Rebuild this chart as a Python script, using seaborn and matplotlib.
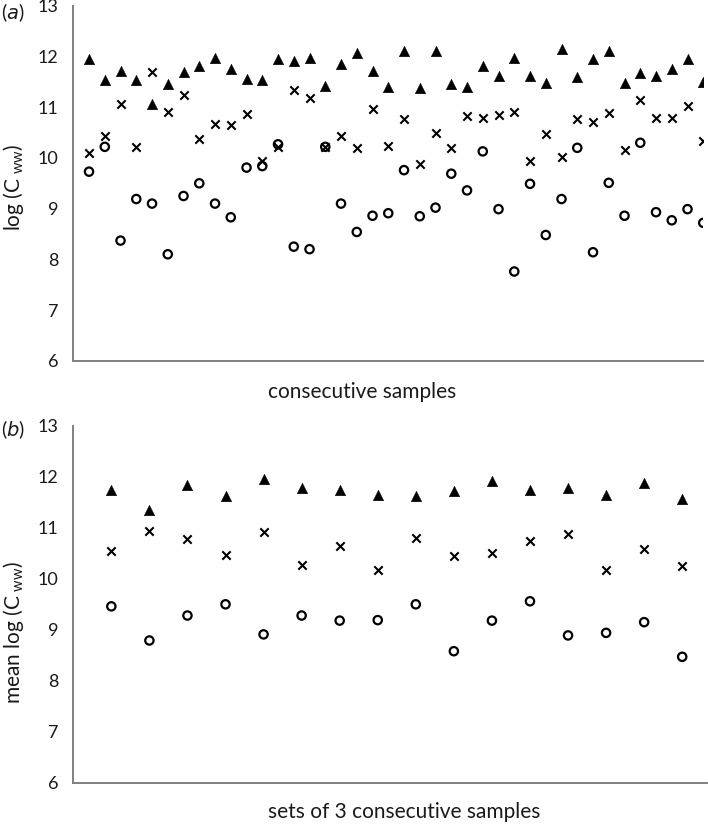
import numpy as np
import pandas as pd
import matplotlib
matplotlib.use("Agg")
import matplotlib.pyplot as plt
import seaborn as sns

# ==========================================
# Data
# ==========================================
# panel (a): 40 consecutive samples
tri_a = [11.95, 11.54, 11.72, 11.54, 11.06, 11.46, 11.70, 11.82, 11.98, 11.76,
         11.56, 11.54, 11.95, 11.92, 11.98, 11.42, 11.85, 12.08, 11.71, 11.40,
         12.12, 11.38, 12.12, 11.46, 11.40, 11.81, 11.62, 11.98, 11.62, 11.47,
         12.15, 11.60, 11.95, 12.11, 11.48, 11.67, 11.62, 11.75, 11.95, 11.50]
cross_a = [10.09, 10.43, 11.06, 10.22, 11.69, 10.90, 11.25, 10.38, 10.68, 10.65,
           10.86, 9.94, 10.22, 11.35, 11.19, 10.22, 10.44, 10.19, 10.97, 10.24,
           10.77, 9.89, 10.50, 10.19, 10.82, 10.78, 10.84, 10.90, 9.95, 10.47,
           10.02, 10.76, 10.71, 10.89, 10.15, 11.14, 10.79, 10.79, 11.03, 10.33]
circ_a = [9.73, 10.22, 8.37, 9.19, 9.10, 8.10, 9.25, 9.50, 9.10, 8.83,
          9.81, 9.84, 10.27, 8.25, 8.20, 10.22, 9.10, 8.54, 8.86, 8.91,
          9.76, 8.85, 9.02, 9.69, 9.36, 10.13, 8.99, 7.76, 9.49, 8.48,
          9.19, 10.20, 8.14, 9.51, 8.86, 10.30, 8.93, 8.77, 8.99, 8.72]

# panel (b): 16 sets of 3 consecutive samples
tri_b = [11.74, 11.36, 11.85, 11.62, 11.95, 11.79, 11.74, 11.64,
         11.62, 11.72, 11.92, 11.75, 11.79, 11.64, 11.89, 11.56]
cross_b = [10.54, 10.94, 10.78, 10.47, 10.92, 10.28, 10.65, 10.18,
           10.81, 10.44, 10.51, 10.74, 10.87, 10.17, 10.59, 10.26]
circ_b = [9.46, 8.79, 9.28, 9.50, 8.91, 9.28, 9.18, 9.19,
          9.50, 8.58, 9.18, 9.56, 8.89, 8.94, 9.15, 8.47]

yticks = [6, 7, 8, 9, 10, 11, 12, 13]

sns.set_style("white")
plt.rcParams["font.family"] = ["Lato", "DejaVu Sans"]

fig = plt.figure(figsize=(7.08, 8.25), dpi=100)
ax_a = fig.add_axes([0.1035, 0.5628, 0.8898, 0.430])
ax_b = fig.add_axes([0.1035, 0.0513, 0.8950, 0.4324])

TXT = "#1a1a1a"


def draw_panel(ax, tri, cross, circ, xmax):
    x = np.arange(1, len(tri) + 1)
    sns.scatterplot(x=x, y=tri, marker="^", s=58, color="black",
                    edgecolor="black", linewidth=0.3, ax=ax)
    sns.scatterplot(x=x, y=cross, marker="x", s=36, color="black",
                    linewidth=1.5, ax=ax)
    ax.scatter(x, circ, marker="o", s=36, facecolors="none",
               edgecolors="black", linewidths=1.6)
    ax.set_xlim(0, xmax)
    ax.set_ylim(6, 13)
    ax.set_yticks(yticks)
    ax.set_yticklabels([str(t) for t in yticks], fontsize=13, color=TXT)
    ax.set_xticks([])
    ax.tick_params(axis="y", length=0, pad=11)
    for side in ["top", "right"]:
        ax.spines[side].set_visible(False)
    for side in ["left", "bottom"]:
        ax.spines[side].set_color("#808080")
        ax.spines[side].set_linewidth(1.4)
    ax.set_ylabel("")
    ax.set_xlabel("")


draw_panel(ax_a, tri_a, cross_a, circ_a, 40)
draw_panel(ax_b, tri_b, cross_b, circ_b, 16.65)

# y-axis titles
fig.text(14 / 708, 1 - 187 / 825, "log (C$_{\\mathregular{\\ ww}}$)", fontsize=15,
         rotation=90, ha="center", va="center", color=TXT)
fig.text(14 / 708, 1 - 632 / 825, "mean log (C$_{\\mathregular{\\ ww}}$)", fontsize=15,
         rotation=90, ha="center", va="center", color=TXT)

# x-axis titles
fig.text(362 / 708, 1 - 392 / 825, "consecutive samples", fontsize=15,
         ha="center", va="center", color=TXT)
fig.text(404 / 708, 1 - 812 / 825, "sets of 3 consecutive samples", fontsize=15,
         ha="center", va="center", color=TXT)

# panel letters
fig.text(0.002, 1 - 1 / 825, "($\\mathit{a}$)", fontsize=14, ha="left", va="top",
         color=TXT)
fig.text(0.002, 1 - 418 / 825, "($\\mathit{b}$)", fontsize=14, ha="left", va="top",
         color=TXT)

fig.savefig("out.png", dpi=100)
